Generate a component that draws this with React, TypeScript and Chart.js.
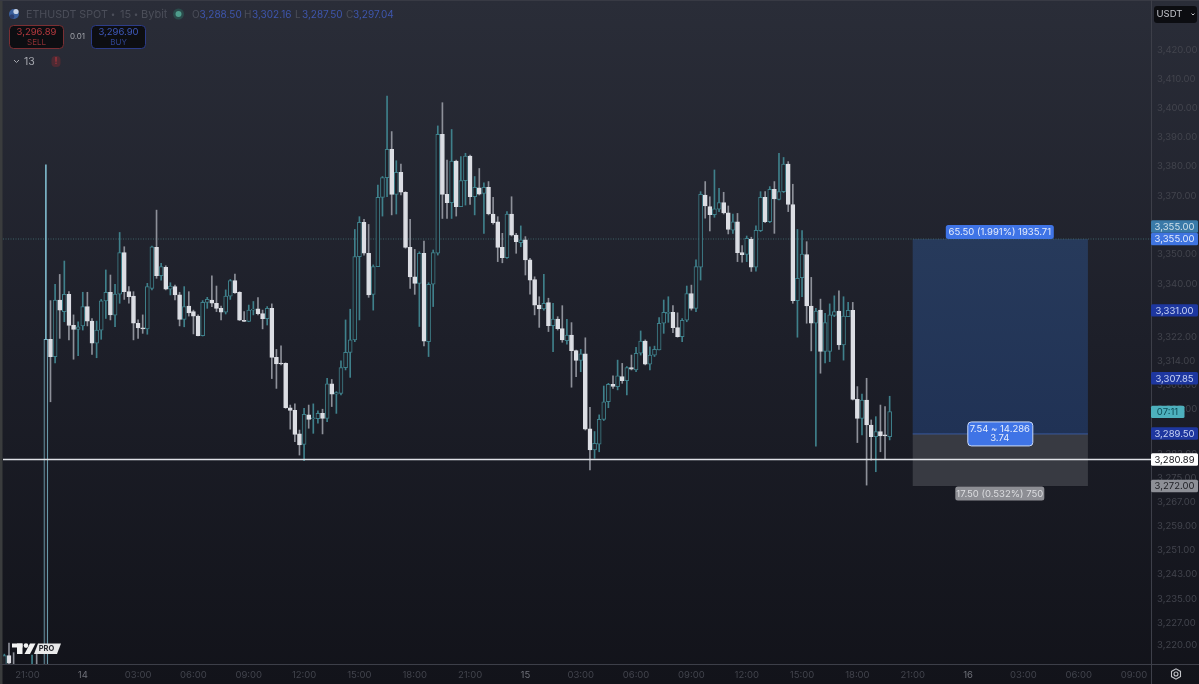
import React, { useEffect, useRef } from "react";
import { Chart, registerables } from "chart.js";

Chart.register(...registerables);

const firstIndex = -5;
const opens = [
  3212,3215,3210,3209,3206,3205,3205,3208,3205,3205,
  3321.3,3315.5,3334.5,3330.6,3336.4,3326.0,3324.6,3325.8,3332.3,3327.4,
  3320.0,3324.4,3334.2,3337.1,3329.4,3336.5,3350.4,3337.3,3335.8,3326.7,
  3325.1,3324.8,3338.4,3352.2,3342.7,3345.5,3338.1,3339.0,3336.2,3328.0,
  3332.5,3330.6,3329.1,3322.5,3333.7,3334.5,3333.4,3331.7,3330.4,3335.8,
  3341.0,3337.1,3327.7,3327.3,3331.1,3331.5,3329.9,3328.2,3331.7,3315.2,
  3313.2,3313.2,3298.3,3297.4,3289.5,3286.0,3295.9,3294.6,3294.6,3296.4,
  3294.7,3306.3,3302.9,3303.1,3311.8,3316.9,3321.1,3349.1,3360.6,3350.2,
  3336.4,3345.7,3369.0,3375.6,3385.1,3370.0,3377.4,3370.7,3352.2,3342.3,
  3340.1,3350.2,3320.5,3339.8,3350.2,3390.2,3370.0,3367.2,3381.2,3365.9,
  3374.6,3382.9,3369.2,3372.2,3370.3,3372.4,3363.4,3360.8,3352.2,3348.7,
  3363.4,3356.3,3353.8,3354.7,3348.0,3341.4,3332.8,3331.5,3333.6,3325.9,
  3328.1,3324.9,3320.8,3322.7,3317.5,3314.2,3316.4,3291.2,3284.1,3286.1,
  3294.4,3300.3,3306.2,3305.4,3308.8,3307.4,3311.8,3311.0,3316.6,3320.7,
  3312.9,3316.0,3317.7,3326.7,3330.0,3330.4,3325.2,3322.2,3327.7,3336.7,
  3331.7,3345.5,3369.8,3365.9,3363.2,3365.0,3367.2,3363.8,3358.0,3360.8,
  3350.4,3349.8,3355.0,3345.5,3357.8,3369.0,3360.8,3371.7,3368.3,3370.9,
  3380.2,3366.6,3334.3,3342.0,3349.8,3332.5,3326.7,3331.1,3317.2,3317.2,
  3329.3,3330.8,3319.4,3328.9,3331.0,3301.1,3294.7,3300.9,3292.5,3288.6,3290.3,3289.2,3288.6,
];
const closes = [
  3215,3212.5,3209,3206,3205,3207,3208,3205,3208,3321.3,
  3315.5,3334.5,3331.1,3336.4,3326.0,3324.6,3325.5,3332.3,3327.4,3320.0,
  3324.4,3334.2,3337.1,3329.5,3336.5,3350.4,3337.3,3335.6,3326.7,3325.1,
  3324.8,3339.0,3352.4,3342.7,3345.7,3338.1,3339.2,3336.2,3328.0,3332.3,
  3330.2,3329.1,3322.5,3333.7,3334.7,3333.4,3331.7,3330.4,3335.8,3341.0,
  3337.0,3327.7,3327.3,3331.1,3331.4,3329.9,3328.2,3331.7,3315.2,3313.0,
  3313.0,3298.3,3297.4,3289.3,3285.8,3296.1,3294.4,3294.9,3296.4,3294.7,
  3306.3,3302.9,3303.4,3311.8,3316.9,3321.1,3349.1,3360.6,3350.2,3336.2,
  3345.7,3369.0,3375.6,3385.1,3370.0,3377.4,3370.7,3352.2,3342.3,3340.1,
  3350.2,3320.7,3339.8,3350.4,3390.2,3370.0,3367.2,3381.2,3365.9,3374.6,
  3382.9,3369.2,3372.4,3370.1,3372.4,3363.4,3360.5,3352.2,3348.7,3363.4,
  3356.3,3354.1,3354.7,3348.0,3341.2,3332.8,3331.5,3333.4,3325.9,3328.1,
  3324.9,3321.1,3322.7,3317.5,3314.2,3316.4,3291.1,3284.1,3286.3,3294.4,
  3300.3,3306.2,3305.5,3309.0,3307.4,3311.8,3311.3,3316.6,3320.7,3312.9,
  3316.0,3317.9,3326.7,3330.4,3330.4,3325.2,3322.2,3327.7,3336.7,3331.7,
  3345.7,3370.0,3366.1,3363.2,3365.1,3367.2,3363.8,3358.2,3360.8,3350.4,
  3349.7,3355.2,3345.5,3357.9,3369.0,3360.8,3371.7,3368.5,3370.9,3380.2,
  3366.6,3334.3,3341.8,3349.9,3332.5,3326.7,3330.8,3317.2,3326.9,3329.5,
  3330.6,3319.4,3329.1,3331.0,3301.1,3294.7,3300.9,3292.5,3288.6,3290.3,3288.8,3288.8,3297.04,
];
const highs = [
  3215.5,3219.2,3216,3211,3209,3208,3215.2,3216,3210,3379.9,
  3334.3,3339.8,3343.1,3347.6,3337.3,3329.5,3327.2,3337.1,3337.1,3328.3,
  3327.4,3334.7,3344.6,3342.9,3339.8,3357.2,3352.4,3339.0,3337.3,3327.8,
  3329.5,3340.1,3352.6,3364.7,3346.8,3346.0,3340.3,3339.5,3337.1,3339.0,
  3337.3,3331.1,3329.5,3334.3,3335.4,3342.6,3339.2,3332.5,3337.9,3341.4,
  3343.2,3337.3,3330.6,3332.8,3334.0,3335.3,3331.1,3332.3,3333.2,3317.9,
  3319.1,3313.4,3299.2,3299.6,3290.8,3298.1,3299.2,3299.6,3297.3,3297.8,
  3308.2,3307.8,3303.7,3314.1,3327.8,3331.4,3358.2,3362.5,3361.6,3359.9,
  3346.3,3373.1,3376.0,3403.0,3391.1,3381.3,3380.2,3370.9,3361.6,3351.5,
  3350.7,3354.3,3340.3,3351.3,3393.0,3400.8,3381.5,3391.8,3381.5,3382.7,
  3383.8,3383.2,3376.0,3378.7,3373.9,3374.3,3369.0,3362.5,3356.9,3364.2,
  3369.2,3356.9,3359.4,3355.8,3348.5,3342.3,3335.6,3343.1,3335.1,3333.4,
  3328.9,3332.6,3328.0,3326.9,3317.7,3317.9,3321.8,3298.4,3290.3,3295.9,
  3305.6,3306.5,3309.0,3314.3,3313.2,3312.1,3316.0,3318.6,3324.1,3321.1,
  3318.8,3319.0,3328.6,3334.5,3335.6,3332.6,3330.2,3328.3,3339.2,3339.5,
  3348.0,3370.9,3374.3,3369.2,3378.2,3372.0,3370.7,3366.1,3363.4,3363.6,
  3352.8,3356.0,3355.6,3359.4,3370.9,3370.9,3372.6,3374.3,3383.8,3382.4,
  3381.0,3373.4,3358.2,3357.8,3354.1,3342.1,3331.7,3334.8,3330.0,3333.2,
  3335.9,3337.6,3335.6,3333.7,3333.7,3305.4,3302.9,3308.2,3294.2,3295.3,3299.2,3298.7,3302.16,
];
const lows = [
  3208,3208,3205,3204,3203,3201,3200,3200,3200,3195,
  3300.3,3313.4,3321.6,3327.2,3321.1,3314.6,3315.8,3324.4,3325.8,3316.2,
  3315.1,3321.3,3328.3,3327.8,3325.5,3333.4,3334.7,3333.4,3321.1,3321.6,
  3323.3,3323.0,3337.9,3341.8,3341.2,3337.9,3336.2,3334.5,3325.8,3325.5,
  3329.1,3323.1,3322.4,3322.4,3331.7,3332.3,3330.6,3327.8,3329.8,3334.7,
  3336.7,3327.6,3327.2,3327.2,3329.5,3329.5,3324.8,3326.1,3308.1,3304.8,
  3312.7,3298.1,3291.1,3286.9,3282.4,3280.5,3291.4,3289.7,3293.1,3289.5,
  3293.6,3298.7,3296.4,3302.6,3311.0,3308.5,3320.5,3327.8,3349.6,3335.4,
  3331.1,3345.7,3362.7,3369.2,3363.1,3363.4,3369.8,3351.9,3338.4,3336.4,
  3325.6,3319.1,3315.5,3332.3,3349.6,3361.9,3361.9,3361.9,3362.7,3365.9,
  3366.4,3366.6,3363.1,3369.8,3356.9,3363.1,3360.0,3347.4,3347.0,3348.5,
  3356.0,3350.2,3352.4,3342.9,3336.5,3329.5,3325.3,3331.1,3323.9,3317.1,
  3324.4,3320.3,3319.7,3305.2,3308.7,3310.4,3290.8,3277.4,3281.3,3283.5,
  3294.0,3298.3,3304.8,3304.3,3306.5,3302.6,3311.0,3310.4,3316.0,3312.7,
  3311.0,3315.5,3317.7,3323.3,3327.0,3323.5,3322.0,3320.5,3327.2,3331.1,
  3330.6,3341.2,3362.0,3357.7,3362.3,3364.2,3363.4,3356.7,3356.9,3347.4,
  3347.2,3347.4,3344.1,3344.2,3357.5,3360.5,3360.5,3356.9,3368.1,3370.6,
  3364.2,3333.4,3322.0,3335.6,3326.7,3317.4,3285.4,3309.9,3313.4,3313.8,
  3328.9,3317.9,3314.3,3328.9,3300.9,3286.6,3289.2,3272.3,3280.7,3276.8,3283.5,3281.0,3287.5,
];

const xTickPositions = [0,12,24,36,48,60,72,84,96,108,120,132,144,156,168,180,192,204,216,228,240];
const xTickLabels = ["21:00","14","03:00","06:00","09:00","12:00","15:00","18:00","21:00","15","03:00","06:00","09:00","12:00","15:00","18:00","21:00","16","03:00","06:00","09:00"];
const yTickValues = [3420,3410,3400,3390,3380,3370,3360,3350,3340,3322,3314,3306,3298,3290,3283,3275,3267,3259,3251,3243,3235,3227,3220];

const targetPrice = 3355;
const entryPrice = 3289.5;
const stopPrice = 3272;
const lastLine = 3280.89;
const positionStart = 192;
const positionEnd = 230;

const targetLabel = "65.50 (1.991%) 1935.71";
const entryLabelA = "7.54 ~ 14.286";
const entryLabelB = "3.74";
const stopLabel = "17.50 (0.532%) 750";
const badgeTexts = ["3,355.00", "3,355.00", "3,331.00", "3,307.85", "3,289.50", "3,280.89", "3,272.00"];
const badgeValues = [3355, 3355, 3331, 3307.85, 3289.5, 3280.89, 3272];
const countdownText = "07:11";
const countdownValue = 3298;

const X_MIN = -5.3;
const X_MAX = 243.9;
const FONT = "Inter, 'Noto Sans', sans-serif";

const UP = "#3f808b";
const UP_BRIGHT = "#7db7c9";
const UP_FILL = "#1e2029";
const DOWN = "#dcdee4";
const DOWN_WICK = "#8d9099";

function rr(c: CanvasRenderingContext2D, x: number, y: number, w: number, h: number, r: number) {
  c.beginPath();
  c.roundRect(x, y, w, h, r);
}
function txt(c: CanvasRenderingContext2D, s: string, x: number, y: number, color: string, size: number, align: CanvasTextAlign = "left", weight = "400") {
  c.font = `${weight} ${size}px ${FONT}`;
  c.fillStyle = color;
  c.textAlign = align;
  c.textBaseline = "middle";
  c.fillText(s, x, y);
}

const chrome = {
  id: "chrome",
  beforeDraw(chart: any) {
    const c: CanvasRenderingContext2D = chart.ctx;
    const W = chart.width, H = chart.height;
    const g = c.createLinearGradient(0, 0, 0, H);
    g.addColorStop(0, "#2a2d38");
    g.addColorStop(0.5, "#1d1f29");
    g.addColorStop(1, "#12131a");
    c.fillStyle = g;
    c.fillRect(0, 0, W, H);
    c.fillStyle = "#3a3c3d";
    c.fillRect(0, 0, 2.5, H);
    c.fillStyle = "#383a44";
    c.fillRect(0, 0, W, 1);
  },
  beforeDatasetsDraw(chart: any) {
    const c: CanvasRenderingContext2D = chart.ctx;
    const { x, y } = chart.scales;
    const l = x.getPixelForValue(positionStart), r = x.getPixelForValue(positionEnd);
    const t = y.getPixelForValue(targetPrice), e = y.getPixelForValue(entryPrice), s = y.getPixelForValue(stopPrice);
    const g = c.createLinearGradient(0, t, 0, e);
    g.addColorStop(0, "#273a5b");
    g.addColorStop(1, "#203255");
    c.fillStyle = g;
    c.fillRect(l, t, r - l, e - t);
    c.fillStyle = "#383a42";
    c.fillRect(l, e, r - l, s - e);
    c.fillStyle = "#39599f";
    c.fillRect(l, e - 0.5, r - l, 1);
  },
  afterDraw(chart: any) {
    const c: CanvasRenderingContext2D = chart.ctx;
    const { x, y } = chart.scales;
    const W = chart.width;
    // separators
    c.fillStyle = "#3d3f49";
    c.fillRect(1151, 0, 1, chart.height);
    c.fillRect(0, 664, W, 1);

    // header
    c.fillStyle = "#3a5f9c";
    c.beginPath(); c.arc(14, 14, 5, 0, 7); c.fill();
    c.fillStyle = "#c6d2e6";
    c.beginPath(); c.arc(16, 11.5, 2.6, 0, 7); c.fill();
    c.fillStyle = "#2c3f70";
    c.beginPath(); c.arc(12, 16.5, 2.3, 0, 7); c.fill();
    const dim = "#4b4e59", blue = "#3e56ad";
    txt(c, "ETHUSDT SPOT", 26, 14.5, dim, 10.7);
    txt(c, "•", 113, 14.5, dim, 8, "center");
    txt(c, "15", 120, 14.5, dim, 11);
    txt(c, "•", 136, 14.5, dim, 8, "center");
    txt(c, "Bybit", 141, 14.5, dim, 11);
    c.fillStyle = "#2a4a4a";
    c.beginPath(); c.arc(178.5, 14, 5.5, 0, 7); c.fill();
    c.fillStyle = "#4f9d8c";
    c.beginPath(); c.arc(178.5, 14, 3, 0, 7); c.fill();
    txt(c, "O", 192, 14.5, dim, 10);
    txt(c, "3,288.50", 199.5, 14.5, blue, 10);
    txt(c, "H", 244, 14.5, dim, 10);
    txt(c, "3,302.16", 252, 14.5, blue, 10);
    txt(c, "L", 295, 14.5, dim, 10);
    txt(c, "3,287.50", 302, 14.5, blue, 10);
    txt(c, "C", 346, 14.5, dim, 10);
    txt(c, "3,297.04", 353, 14.5, blue, 10);

    // trade buttons
    rr(c, 9.5, 25.5, 54, 23, 4);
    c.fillStyle = "#0d0e12"; c.fill();
    c.strokeStyle = "#7a2f33"; c.lineWidth = 1; c.stroke();
    txt(c, "3,296.89", 36.5, 32.5, "#b5393e", 9.5, "center");
    txt(c, "SELL", 36.5, 42.5, "#8c3034", 8, "center");
    txt(c, "0.01", 77.5, 37, "#a0a2a9", 8, "center");
    rr(c, 91.5, 25.5, 54, 23, 4);
    c.fillStyle = "#0d0e12"; c.fill();
    c.strokeStyle = "#2c3c88"; c.stroke();
    txt(c, "3,296.90", 118.5, 32.5, "#3f59bb", 9.5, "center");
    txt(c, "BUY", 118.5, 42.5, "#2f4490", 8, "center");
    // collapse row
    c.strokeStyle = "#a5a7ae"; c.lineWidth = 1;
    c.beginPath(); c.moveTo(14, 60); c.lineTo(16.5, 62.5); c.lineTo(19, 60); c.stroke();
    txt(c, "13", 24, 61.5, "#a5a7ae", 10.5);
    rr(c, 51.5, 56, 9, 11, 4);
    c.fillStyle = "#4e2a33"; c.fill();
    txt(c, "!", 56, 61.5, "#a3343c", 9, "center", "700");

    // currency
    rr(c, 1154, 6, 43, 17, 3);
    c.fillStyle = "#0c0d11"; c.fill();
    txt(c, "USDT", 1156.5, 14.5, "#c4c6cc", 9.5);
    c.strokeStyle = "#c4c6cc";
    c.beginPath(); c.moveTo(1191.5, 13.5); c.lineTo(1193, 15); c.lineTo(1194.5, 13.5); c.stroke();

    // price badges
    const badgeFill = ["#3a7aa8", "#3f74e0", "#1e379f", "#1e379f", "#1e379f", "#ffffff", "#8d8f96"];
    const badgeInk = ["#cfe0ea", "#e4ecfb", "#c9d4f5", "#c9d4f5", "#c9d4f5", "#131419", "#1d1e23"];
    const shift = [-12.5, 0, 0, -1, -0.5, 0, 0];
    badgeTexts.forEach((t, i) => {
      const py = y.getPixelForValue(badgeValues[i]) + shift[i];
      rr(c, 1151, py - 6.2, 47, 12.4, 1.5);
      c.fillStyle = badgeFill[i]; c.fill();
      txt(c, t, 1174.5, py + 0.4, badgeInk[i], 9.5, "center");
    });
    // countdown
    const cy = y.getPixelForValue(countdownValue) + 3;
    rr(c, 1151, cy - 6, 33.5, 12.4, 1.5);
    c.fillStyle = "#4db0bd"; c.fill();
    txt(c, countdownText, 1167.5, cy + 0.4, "#0c4a55", 9.5, "center");

    // position labels
    const mid = (x.getPixelForValue(positionStart) + x.getPixelForValue(positionEnd)) / 2;
    const t = y.getPixelForValue(targetPrice), e = y.getPixelForValue(entryPrice), s = y.getPixelForValue(stopPrice);
    rr(c, mid - 54.5, t - 14, 108, 14, 2.5);
    c.fillStyle = "#3f74e6"; c.fill();
    txt(c, targetLabel, mid - 0.5, t - 6.6, "#e6edfb", 9.5, "center");
    rr(c, mid - 32.5, e - 12, 65, 24, 3.5);
    c.fillStyle = "#3f74e6"; c.fill();
    c.strokeStyle = "#cbdaf7"; c.lineWidth = 1; c.stroke();
    txt(c, entryLabelA, mid - 0.5, e - 4.4, "#e6edfb", 9.5, "center");
    txt(c, entryLabelB, mid - 0.5, e + 4.6, "#e6edfb", 9.5, "center");
    rr(c, mid - 45, s + 0.5, 89, 14, 2.5);
    c.fillStyle = "#8d8e94"; c.fill();
    txt(c, stopLabel, mid - 0.5, s + 8, "#dcdde0", 9.5, "center");

    // logo
    c.fillStyle = "#f2f2f2";
    c.fillRect(12, 643.5, 10.5, 4);
    c.fillRect(17, 643.5, 5.5, 10.5);
    c.beginPath(); c.arc(26, 645.6, 2.3, 0, 7); c.fill();
    c.beginPath(); c.moveTo(30, 643.5); c.lineTo(35.5, 643.5); c.lineTo(30, 654); c.lineTo(24.5, 654); c.fill();
    c.fillStyle = "#e9e9ea";
    c.beginPath(); c.moveTo(38, 643.5); c.lineTo(61, 643.5); c.lineTo(57, 654); c.lineTo(34, 654); c.fill();
    txt(c, "PRO", 46.5, 649, "#25262c", 7.5, "center", "700");

    // gear
    const gx = 1176, gy = 674;
    c.strokeStyle = "#c3c4c9"; c.lineWidth = 1.1;
    c.beginPath();
    for (let k = 0; k < 6; k++) {
      const a = Math.PI / 6 + (k * Math.PI) / 3;
      const px = gx + 5.2 * Math.cos(a), py = gy + 5.2 * Math.sin(a);
      if (k === 0) c.moveTo(px, py); else c.lineTo(px, py);
    }
    c.closePath(); c.stroke();
    c.beginPath(); c.arc(gx, gy, 2, 0, 7); c.stroke();
  },
};

export default function App() {
  const ref = useRef<HTMLCanvasElement>(null);
  useEffect(() => {
    document.body.style.margin = "0";
    const xs = opens.map((_, i) => i + firstIndex);
    const isUp = opens.map((o, i) => closes[i] >= o);
    const wickColor = xs.map((v, i) => (v === 4 ? UP_BRIGHT : isUp[i] ? UP : DOWN_WICK));
    const bodyColor = xs.map((v, i) => (v === 4 ? UP_BRIGHT : isUp[i] ? UP : DOWN));
    const bodyFill = xs.map((_, i) => (isUp[i] ? UP_FILL : DOWN));
    const chart = new Chart(ref.current!, {
      type: "bar",
      data: {
        datasets: [
          {
            type: "line",
            data: [{ x: X_MIN, y: lastLine }, { x: X_MAX, y: lastLine }],
            borderColor: "#dfe1e6",
            borderWidth: 1.4,
            pointRadius: 0,
            order: 0,
          },
          {
            type: "line",
            data: [{ x: X_MIN, y: targetPrice }, { x: X_MAX, y: targetPrice }],
            borderColor: "#3f6268",
            borderWidth: 1,
            borderDash: [1, 1.5],
            pointRadius: 0,
            order: 3,
          },
          {
            type: "bar",
            data: xs.map((x, i) => ({ x, y: [opens[i], closes[i]] })),
            backgroundColor: bodyFill,
            borderColor: bodyColor,
            borderWidth: 1,
            borderSkipped: false,
            barThickness: 4,
            minBarLength: 1,
            grouped: false,
            order: 1,
          },
          {
            type: "bar",
            data: xs.map((x, i) => ({ x, y: [lows[i], highs[i]] })),
            backgroundColor: wickColor,
            borderWidth: 0,
            barThickness: 1,
            grouped: false,
            order: 2,
          },
        ],
      } as any,
      options: {
        responsive: false,
        animation: false,
        devicePixelRatio: 1,
        layout: { padding: { left: 3, top: 0, right: 0, bottom: 0 } },
        plugins: { legend: { display: false }, tooltip: { enabled: false } },
        scales: {
          x: {
            type: "linear",
            min: X_MIN,
            max: X_MAX,
            offset: false,
            grid: { display: false, drawTicks: false },
            border: { display: false },
            afterFit: (s: any) => { s.height = 20; s.paddingLeft = 0; s.paddingRight = 0; },
            afterBuildTicks: (s: any) => { s.ticks = xTickPositions.map((value) => ({ value })); },
            ticks: {
              autoSkip: false,
              maxRotation: 0,
              padding: 5,
              font: { family: FONT, size: 9.5 },
              color: (ctx: any) => (xTickLabels[xTickPositions.indexOf(ctx.tick.value)]?.length === 2 ? "#6f7179" : "#42444d"),
              callback: (v: any) => xTickLabels[xTickPositions.indexOf(v)] ?? "",
            },
          },
          y: {
            type: "linear",
            display: false,
            position: "right",
            min: 3212.19,
            max: 3435.31,
          },
          priceLabels: {
            type: "logarithmic",
            axis: "y",
            position: "right",
            min: 3213.75,
            max: 3437.55,
            grid: { display: false, drawTicks: false },
            border: { display: false },
            afterFit: (s: any) => { s.width = 47; s.paddingTop = 0; s.paddingBottom = 0; },
            afterBuildTicks: (s: any) => { s.ticks = yTickValues.map((value) => ({ value })); },
            ticks: {
              autoSkip: false,
              padding: 5,
              font: { family: FONT, size: 9.5 },
              color: "#42444d",
              callback: (v: any) => Number(v).toLocaleString("en-US", { minimumFractionDigits: 2, maximumFractionDigits: 2 }),
            },
          },
        },
      },
      plugins: [chrome],
    } as any);
    return () => chart.destroy();
  }, []);
  return (
    <div style={{ position: "fixed", left: 0, top: 0, width: 1199, height: 684 }}>
      <canvas ref={ref} width={1199} height={684} style={{ display: "block" }} />
    </div>
  );
}
